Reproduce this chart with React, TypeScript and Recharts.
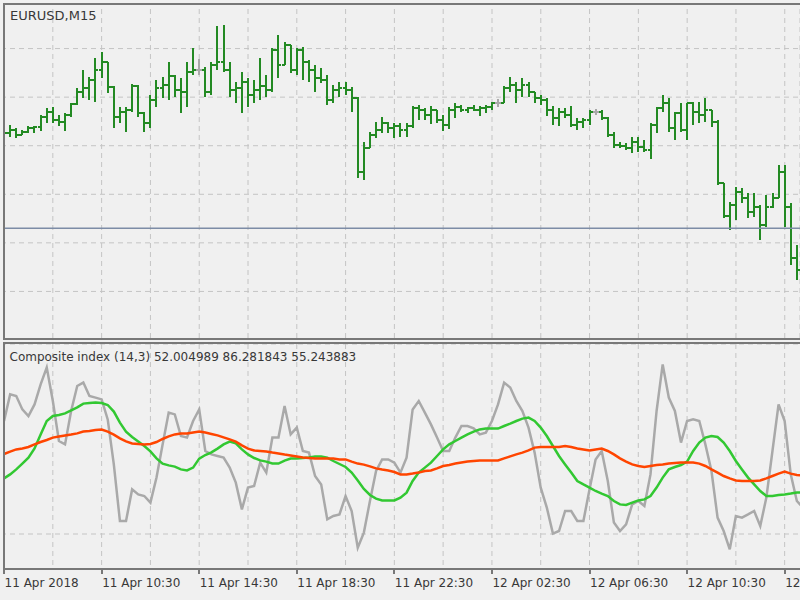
import { ComposedChart, Bar, Line, XAxis, YAxis, CartesianGrid, ReferenceLine } from "recharts";

// EURUSD M15, one bar every 15 minutes from 11 Apr 2018 06:30
const opens = [
  1.23861, 1.23863, 1.23866, 1.23861, 1.23864, 1.23868, 1.23869, 1.2388, 1.23885, 1.23876,
  1.23874, 1.23882, 1.23893, 1.23905, 1.23909, 1.23918, 1.23928, 1.23936, 1.2391, 1.2388,
  1.23885, 1.23887, 1.23911, 1.23884, 1.23873, 1.23897, 1.23909, 1.23913, 1.23922, 1.23907,
  1.23905, 1.23926, 1.23928, 1.23928, 1.23905, 1.23933, 1.23936, 1.23928, 1.23907, 1.23909,
  1.23916, 1.23902, 1.23907, 1.23911, 1.23907, 1.23949, 1.23933, 1.23954, 1.23928, 1.23949,
  1.23936, 1.23928, 1.2392, 1.23918, 1.23897, 1.23907, 1.23909, 1.23907, 1.23899, 1.23823,
  1.23848, 1.23861, 1.23866, 1.23873, 1.23868, 1.2387, 1.23866, 1.2387, 1.23889, 1.23887,
  1.23882, 1.23887, 1.23876, 1.23871, 1.23887, 1.2389, 1.23887, 1.23889, 1.23887, 1.23889,
  1.2389, 1.23894, 1.23894, 1.23909, 1.23913, 1.23907, 1.23913, 1.23905, 1.23899, 1.23897,
  1.23887, 1.23879, 1.23885, 1.23882, 1.23871, 1.23874, 1.23876, 1.23885, 1.23885, 1.23879,
  1.23861, 1.23851, 1.2385, 1.23848, 1.23854, 1.23849, 1.23846, 1.23871, 1.23889, 1.23894,
  1.23868, 1.23884, 1.23866, 1.23894, 1.23885, 1.23882, 1.23887, 1.23874, 1.23812, 1.23778,
  1.23789, 1.23802, 1.23796, 1.23782, 1.23787, 1.23768, 1.23787, 1.23796, 1.23823, 1.23787,
  1.23734,
];

const highs = [
  1.23866, 1.23871, 1.23868, 1.23866, 1.2387, 1.2387, 1.23882, 1.23889, 1.2389, 1.23882,
  1.23884, 1.23894, 1.23909, 1.23928, 1.23921, 1.2394, 1.23946, 1.23936, 1.23911, 1.2389,
  1.2389, 1.23914, 1.23913, 1.23885, 1.23902, 1.23918, 1.23921, 1.23936, 1.23923, 1.2392,
  1.23936, 1.23951, 1.23939, 1.23931, 1.23936, 1.23973, 1.23974, 1.23936, 1.23916, 1.23926,
  1.2392, 1.23918, 1.2394, 1.23923, 1.23951, 1.23964, 1.23957, 1.23954, 1.23951, 1.23952,
  1.23938, 1.23933, 1.2393, 1.23923, 1.23913, 1.23916, 1.23916, 1.2391, 1.239, 1.23854,
  1.23864, 1.23874, 1.2388, 1.23874, 1.23873, 1.23873, 1.23873, 1.23891, 1.23892, 1.23889,
  1.23891, 1.23887, 1.23882, 1.2389, 1.23894, 1.23892, 1.2389, 1.23892, 1.23891, 1.23892,
  1.23895, 1.23898, 1.23911, 1.23921, 1.23916, 1.2392, 1.23916, 1.23905, 1.23902, 1.23899,
  1.23891, 1.23889, 1.23889, 1.23891, 1.23879, 1.23879, 1.23887, 1.23888, 1.23887, 1.2388,
  1.23864, 1.23854, 1.23853, 1.23859, 1.23859, 1.23856, 1.23873, 1.2389, 1.23902, 1.23899,
  1.23885, 1.23894, 1.23894, 1.23895, 1.23895, 1.23899, 1.23887, 1.23876, 1.23812, 1.23792,
  1.23808, 1.23806, 1.23801, 1.23801, 1.23789, 1.23799, 1.23801, 1.2383, 1.2383, 1.23791,
  1.23748,
];

const lows = [
  1.23859, 1.23859, 1.23858, 1.23861, 1.23863, 1.23863, 1.23865, 1.23873, 1.23873, 1.2387,
  1.23865, 1.2388, 1.23892, 1.23899, 1.23897, 1.23895, 1.2392, 1.23904, 1.23868, 1.23873,
  1.23864, 1.23885, 1.2388, 1.23864, 1.23868, 1.2389, 1.23899, 1.23897, 1.239, 1.23884,
  1.2389, 1.23923, 1.23923, 1.239, 1.23902, 1.23928, 1.23926, 1.239, 1.23894, 1.23884,
  1.2389, 1.23894, 1.23897, 1.239, 1.23905, 1.2392, 1.23933, 1.23925, 1.23923, 1.23918,
  1.23916, 1.23905, 1.23915, 1.23892, 1.23894, 1.239, 1.23902, 1.23885, 1.23817, 1.23815,
  1.23848, 1.23858, 1.23863, 1.23863, 1.23858, 1.23859, 1.23859, 1.23868, 1.23876, 1.23876,
  1.23872, 1.23873, 1.23865, 1.23867, 1.23879, 1.23885, 1.23884, 1.23886, 1.23881, 1.23884,
  1.23887, 1.2389, 1.23894, 1.23905, 1.23894, 1.239, 1.239, 1.23894, 1.23892, 1.23881,
  1.23871, 1.2387, 1.23879, 1.23869, 1.23866, 1.23868, 1.23871, 1.23882, 1.23876, 1.23859,
  1.23848, 1.23848, 1.23846, 1.23843, 1.23844, 1.23844, 1.23836, 1.23863, 1.23885, 1.23864,
  1.23856, 1.23864, 1.23856, 1.23871, 1.23873, 1.23874, 1.23869, 1.2381, 1.23776, 1.23763,
  1.23774, 1.23791, 1.23776, 1.23777, 1.23753, 1.23766, 1.23786, 1.23796, 1.23766, 1.23727,
  1.23712,
];

const closes = [
  1.23863, 1.23866, 1.23861, 1.23864, 1.23868, 1.23869, 1.2388, 1.23885, 1.23876, 1.23874,
  1.23882, 1.23893, 1.23905, 1.23909, 1.23918, 1.23928, 1.23936, 1.2391, 1.2388, 1.23885,
  1.23887, 1.23911, 1.23884, 1.23873, 1.23897, 1.23909, 1.23913, 1.23922, 1.23907, 1.23905,
  1.23926, 1.23928, 1.23928, 1.23905, 1.23933, 1.23936, 1.23928, 1.23907, 1.23909, 1.23916,
  1.23902, 1.23907, 1.23911, 1.23907, 1.23949, 1.23933, 1.23954, 1.23928, 1.23949, 1.23936,
  1.23928, 1.2392, 1.23918, 1.23897, 1.23907, 1.23909, 1.23907, 1.23899, 1.23823, 1.23848,
  1.23861, 1.23866, 1.23873, 1.23868, 1.2387, 1.23866, 1.2387, 1.23889, 1.23887, 1.23882,
  1.23887, 1.23876, 1.23871, 1.23887, 1.2389, 1.23887, 1.23889, 1.23887, 1.23889, 1.2389,
  1.23894, 1.23894, 1.23909, 1.23913, 1.23907, 1.23913, 1.23905, 1.23899, 1.23897, 1.23887,
  1.23879, 1.23885, 1.23882, 1.23871, 1.23874, 1.23876, 1.23885, 1.23885, 1.23879, 1.23861,
  1.23851, 1.2385, 1.23848, 1.23854, 1.23849, 1.23846, 1.23871, 1.23889, 1.23894, 1.23868,
  1.23884, 1.23866, 1.23894, 1.23885, 1.23882, 1.23887, 1.23874, 1.23812, 1.23778, 1.23789,
  1.23802, 1.23796, 1.23782, 1.23787, 1.23768, 1.23787, 1.23796, 1.23823, 1.23787, 1.23734,
  1.23722,
];

// Composite index (14,3): main line and its two averages
const compositeLine = [
  74, 87.3, 86.5, 79.8, 76.5, 82.3, 92.3, 100.7, 84, 64,
  62.3, 79, 91.5, 93.2, 86.5, 85.7, 84.8, 74.8, 52.3, 24,
  24, 39.8, 37.3, 36.5, 33.2, 45.7, 62.3, 78.2, 77.3, 66.5,
  65.7, 74, 79.8, 59, 57.3, 56.5, 55.7, 50.7, 43.2, 29.8,
  40.7, 41.5, 53.2, 48.2, 65.7, 65.7, 81.5, 67.3, 70.7, 59,
  58.2, 46.5, 42.3, 24.8, 26.5, 27.3, 36.5, 29, 10.7, 18.2,
  34, 49, 54.8, 54.8, 53.2, 48.2, 55.7, 79.8, 84, 78.2,
  72.3, 65.7, 59, 59, 65.7, 71.5, 71.5, 70.3, 67.3, 68.2,
  74, 82.3, 93.2, 90.7, 84, 79, 70.7, 58.2, 40.7, 30.7,
  17.7, 19, 29, 29, 24, 24, 39.8, 54.8, 59, 44,
  23.2, 19, 22.3, 32.3, 34, 31.5, 47.3, 79, 102.3, 85.7,
  79, 63.2, 74, 74.8, 74, 62.3, 49, 25.7, 19, 9.8,
  26.5, 25.7, 27.3, 29, 21.5, 35.7, 59, 82.3, 74, 47.3,
  34, 30.7,
];

const fastAverage = [
  45.3, 47.3, 49.8, 52.7, 55.7, 60.3, 67.3, 74, 76.5, 77,
  77.8, 79.3, 80.8, 82.7, 83, 83.2, 83, 82, 78.7, 73.2,
  68.7, 66, 63.8, 61.5, 58.8, 55.3, 52.7, 51.8, 51.2, 49.8,
  49.3, 50.7, 55.2, 57, 58.3, 60.2, 62.3, 63.7, 62.8, 59.8,
  57.3, 55.5, 54.3, 53.7, 52.8, 52.7, 54.2, 55.2, 55.3, 55.5,
  55.8, 56.2, 56.3, 55.7, 54, 52.5, 51, 48.2, 44.2, 40,
  37, 35.2, 34.3, 34.3, 34.3, 35.7, 38.2, 44, 48.2, 50.7,
  53.2, 56.5, 59.8, 62.3, 64, 65.7, 67.3, 68.7, 69.8, 70.3,
  70.3, 70.2, 71.5, 72.7, 74, 75.2, 75.7, 74, 70.7, 66.5,
  61.5, 56.5, 52.3, 48.2, 44, 42.3, 40.7, 39, 37.7, 36.5,
  34, 32.3, 32, 33.2, 34.3, 34.8, 36.5, 40.7, 45.7, 49.8,
  51, 52, 53.7, 59, 63.2, 65.7, 66.5, 66, 63.2, 59,
  54, 49.8, 45.7, 42.3, 39, 36.5, 36.5, 37, 37.3, 37.7,
  38.2, 38.2,
];

const slowAverage = [
  57.5, 58.7, 59.8, 60.3, 61, 62.3, 63.5, 64.5, 65.7, 66.2,
  66.7, 67.2, 67.8, 68.7, 69, 69.5, 69.7, 68.7, 67.2, 65.3,
  63.8, 62.8, 62.5, 62.3, 62.5, 63.5, 65, 66.3, 67.3, 67.7,
  67.7, 68.2, 68.7, 68.2, 67.5, 66.8, 65.8, 64.8, 63.7, 61.8,
  60.2, 59.3, 59, 58.7, 58.2, 57.8, 57.2, 56.7, 56.2, 55.7,
  55.5, 55.3, 55.3, 55.2, 55.2, 54.8, 54.8, 53.7, 52.7, 52.2,
  51.3, 50.3, 49.7, 49.2, 48.5, 47.3, 47.3, 47.7, 48.2, 49,
  49.3, 50.3, 51.5, 52, 52.7, 53.2, 53.7, 54, 54.3, 54.3,
  54.3, 54.3, 55.3, 56.3, 57.3, 58.2, 59.3, 60.7, 61, 61,
  61, 61, 61.5, 61, 60.3, 59.8, 59.3, 59.8, 60.2, 59,
  57.3, 55.3, 53.7, 52.3, 51.5, 51, 51.5, 52, 52.3, 52.7,
  53, 53.2, 53.2, 53.2, 52.7, 51.5, 49.8, 48.2, 46.5, 45.3,
  44.3, 44, 44, 44, 44.3, 45.3, 46.5, 47.7, 48.7, 47.7,
  47, 46.7,
];

const tickLabels = [
  "11 Apr 2018", "11 Apr 10:30", "11 Apr 14:30", "11 Apr 18:30", "11 Apr 22:30",
  "12 Apr 02:30", "12 Apr 06:30", "12 Apr 10:30", "12 Apr 14:30",
];
const priceGrid = [1.237, 1.2375, 1.238, 1.2385, 1.239, 1.2395];
const bidPrice = 1.23765;
const oscGrid = [17.5];
const legendValues = ["52.004989", "86.281843", "55.243883"];

const BG = "#f0f0f0";
const FRAME = "#787878";
const GRID = "#c4c4c4";
const TEXT = "#383838";
const BAR_UP = "#238a23";
const DOJI = "#a8a8a8";
const FONT = "'DejaVu Sans', sans-serif";

const bars = opens.map((open, i) => ({ i, open, high: highs[i], low: lows[i], close: closes[i] }));
const osc = compositeLine.map((v, i) => ({ i, composite: v, fast: fastAverage[i], slow: slowAverage[i] }));

function OhlcShape(props: any) {
  const { x, y, width, height, payload } = props;
  const cx = Math.round(x + width / 2);
  const top = Math.min(y, y + height);
  const bottom = Math.max(y, y + height);
  const toY = (p: number) => top + ((payload.high - p) / (payload.high - payload.low)) * (bottom - top);
  const yo = Math.round(toY(payload.open));
  const yc = Math.round(toY(payload.close));
  const color = payload.open === payload.close ? DOJI : BAR_UP;
  return (
    <g stroke={color} strokeWidth={2} shapeRendering="crispEdges">
      <line x1={cx} x2={cx} y1={Math.round(top)} y2={Math.round(bottom)} />
      <line x1={cx - 3} x2={cx} y1={yo} y2={yo} />
      <line x1={cx} x2={cx + 3} y1={yc} y2={yc} />
    </g>
  );
}

function TimeTick(props: any) {
  const { x, y, payload } = props;
  const slot = payload.value / 16;
  if (!Number.isInteger(slot)) return <g />;
  const tx = Math.round(x);
  return (
    <g>
      <line x1={tx} x2={tx} y1={y - 7} y2={y - 2} stroke={FRAME} strokeWidth={2} />
      <text x={x + 0.5} y={y} dy={11} textAnchor="start" fontSize={12} fontFamily={FONT} fill={TEXT}>
        {tickLabels[slot]}
      </text>
    </g>
  );
}

export default function App() {
  return (
    <div style={{ position: "absolute", left: 0, top: 0, width: 800, height: 600, background: BG, overflow: "hidden" }}>
      <div style={{ position: "absolute", left: 5, top: 5, width: 795, height: 333, overflow: "hidden" }}>
        <div style={{ position: "absolute", left: -5, top: -5 }}>
          <ComposedChart width={800} height={340} data={bars} margin={{ top: 0, right: 0, bottom: 0, left: 1 }} barCategoryGap={0}>
            <CartesianGrid stroke={GRID} strokeDasharray="5 4" />
            <XAxis dataKey="i" type="category" scale="band" interval={7} hide />
            <YAxis type="number" domain={[1.2365, 1.24]} ticks={priceGrid} allowDataOverflow hide />
            <ReferenceLine y={bidPrice} stroke="#7d8ca6" strokeWidth={1.5} />
            <Bar dataKey={(d: any) => [d.low, d.high]} shape={OhlcShape} isAnimationActive={false} />
          </ComposedChart>
        </div>
      </div>

      <div style={{ position: "absolute", left: 3, top: 344, width: 797, height: 256, overflow: "hidden" }}>
        <div style={{ position: "absolute", left: -3, top: -2 }}>
          <ComposedChart width={806} height={258} data={osc} margin={{ top: 2, right: 0, bottom: 0, left: 1 }}>
            <CartesianGrid stroke={GRID} strokeDasharray="5 4" />
            <XAxis
              dataKey="i"
              type="category"
              scale="band"
              interval={7}
              height={31}
              tickSize={5}
              tickMargin={2}
              tickLine={false}
              axisLine={{ stroke: FRAME, strokeWidth: 2 }}
              tick={TimeTick}
            />
            <YAxis type="number" domain={[0, 112.5]} ticks={oscGrid} allowDataOverflow hide />
            <Line dataKey="composite" stroke="#a9a9a9" strokeWidth={2.5} dot={false} isAnimationActive={false} />
            <Line dataKey="fast" stroke="#32c832" strokeWidth={2.5} dot={false} isAnimationActive={false} />
            <Line dataKey="slow" stroke="#ff4500" strokeWidth={2.5} dot={false} isAnimationActive={false} />
          </ComposedChart>
        </div>
      </div>

      <svg width={800} height={600} style={{ position: "absolute", left: 0, top: 0, pointerEvents: "none" }}>
        <polyline points="800,4 4,4 4,339 800,339" fill="none" stroke={FRAME} strokeWidth={2} />
        <polyline points="800,343 4,343 4,570" fill="none" stroke={FRAME} strokeWidth={2} />
        <text x={10} y={20} fontSize={13} fontFamily={FONT} fill={TEXT}>EURUSD,M15</text>
        <text x={9.5} y={360.5} fontSize={12} fontFamily={FONT} fill={TEXT}>
          {`Composite index (14,3) ${legendValues.join(" ")}`}
        </text>
      </svg>
    </div>
  );
}
